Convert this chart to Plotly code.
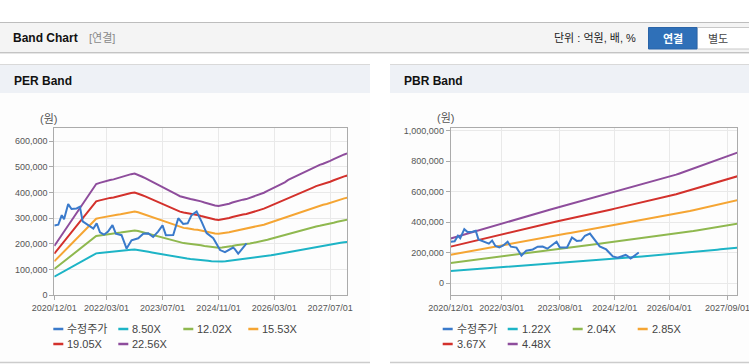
import pandas as pd
import plotly.graph_objects as go

W, H = 749, 364

# ---------------- data ----------------
band_dates = pd.date_range("2020-12-01", periods=85, freq="MS")

# forward EPS (won)
eps = [8500, 9400, 10300, 11200, 12100, 13000, 13900, 14800, 15700, 16600,
       17500, 18400, 19200, 19400, 19600, 19800, 19900, 20000, 20200, 20300,
       20500, 20700, 20900, 21000, 20800, 20500, 20200, 19900, 19600, 19300,
       19000, 18700, 18400, 18000, 17700, 17400, 17100, 16900, 16800, 16600,
       16500, 16400, 16200, 16000, 15800, 15600, 15500, 15400, 15500, 15600,
       15800, 16000, 16200, 16300, 16500, 16600, 16800, 17000, 17200, 17400,
       17700, 18000, 18300, 18600, 18900, 19200, 19500, 19900, 20200, 20500,
       20800, 21100, 21400, 21700, 22000, 22300, 22500, 22700, 22900, 23200,
       23500, 23800, 24100, 24300, 24500]

# forward BPS (won)
bps = [65500, 67000, 68500, 70000, 71500, 73000, 74500, 76000, 77500, 79000,
       80500, 82000, 83500, 85000, 86500, 88000, 89500, 91000, 92400, 93800,
       95200, 96500, 97900, 99300, 100700, 102000, 103400, 104800, 106200, 107600,
       109000, 110300, 111700, 113000, 114400, 115700, 117100, 118400, 119800, 121100,
       122500, 123800, 125200, 126500, 127900, 129200, 130600, 132000, 133400, 134800,
       136200, 137600, 139000, 140400, 141800, 143200, 144600, 146100, 147500, 149000,
       150400, 151800, 153300, 154700, 156200, 157600, 159000, 160800, 162600, 164400,
       166200, 168000, 169800, 171600, 173400, 175200, 177000, 178800, 180600, 182400,
       184200, 186000, 187800, 189600, 191400]

price_dates = ["2020-12-01", "2021-01-05", "2021-02-04", "2021-02-24", "2021-04-01",
               "2021-04-30", "2021-06-13", "2021-07-12", "2021-08-05", "2021-09-23",
               "2021-11-06", "2021-12-05", "2022-01-03", "2022-02-07", "2022-03-14",
               "2022-04-22", "2022-05-21", "2022-07-10", "2022-08-23", "2022-10-05",
               "2022-12-02", "2023-01-15", "2023-02-28", "2023-04-11", "2023-05-24",
               "2023-07-02", "2023-07-31", "2023-10-03", "2023-11-16", "2023-12-29",
               "2024-02-06", "2024-03-11", "2024-04-24", "2024-06-07", "2024-07-20",
               "2024-09-16", "2024-11-14", "2024-12-27", "2025-01-25", "2025-03-08",
               "2025-03-23", "2025-04-21", "2025-05-06", "2025-07-03"]
price = [272000, 275000, 312000, 296000, 355000, 336000, 338000, 345000, 288000, 272000,
         260000, 280000, 245000, 236000, 248000, 273000, 240000, 234000, 182000, 214000,
         222000, 240000, 241000, 227000, 248000, 272000, 234000, 235000, 300000, 278000,
         280000, 312000, 326000, 286000, 242000, 222000, 176000, 168000, 176000, 186000,
         180000, 162000, 170000, 202000]

per_multiples = [8.50, 12.02, 15.53, 19.05, 22.56]
pbr_multiples = [1.22, 2.04, 2.85, 3.67, 4.48]
price_name = "수정주가"
band_colors = ["#1db4c6", "#8fb84f", "#f5a533", "#d3312c", "#8e4d9c"]
price_color = "#3a7acb"

per_ticks = ["2020-12-01", "2022-03-01", "2023-07-01", "2024-11-01", "2026-03-01", "2027-07-01"]
pbr_ticks = ["2020-12-01", "2022-03-01", "2023-08-01", "2024-12-01", "2026-04-01", "2027-09-01"]
per_yticks = [0, 100000, 200000, 300000, 400000, 500000, 600000]
pbr_yticks = [0, 200000, 400000, 600000, 800000, 1000000]

# ---------------- figure ----------------
def px(x):
    return x / W

def py(y):
    return 1 - y / H

fig = go.Figure()

for mult, col in zip(per_multiples, band_colors):
    fig.add_trace(go.Scatter(x=band_dates, y=[e * mult for e in eps], mode="lines",
                             line=dict(color=col, width=2), name=f"{mult:.2f}X",
                             xaxis="x", yaxis="y", showlegend=False))
fig.add_trace(go.Scatter(x=price_dates, y=price, mode="lines",
                         line=dict(color=price_color, width=2), name=price_name,
                         xaxis="x", yaxis="y", showlegend=False))

for mult, col in zip(pbr_multiples, band_colors):
    fig.add_trace(go.Scatter(x=band_dates, y=[b * mult for b in bps], mode="lines",
                             line=dict(color=col, width=2), name=f"{mult:.2f}X",
                             xaxis="x2", yaxis="y2", showlegend=False))
fig.add_trace(go.Scatter(x=price_dates, y=price, mode="lines",
                         line=dict(color=price_color, width=2), name=price_name,
                         xaxis="x2", yaxis="y2", showlegend=False))

tickfont = dict(family="Liberation Sans, Arial, sans-serif", size=9, color="#555555")
axis_common = dict(showline=True, mirror=True, linecolor="#ababab", linewidth=1,
                   ticks="outside", ticklen=4, tickcolor="#ababab", tickfont=tickfont,
                   showgrid=True, gridcolor="#e9e9e9", gridwidth=1, zeroline=False,
                   fixedrange=True, automargin=False, ticklabeloverflow="allow")

x_range = ["2020-12-01", "2027-11-25"]
fig.update_layout(
    template="none",
    width=W, height=H, margin=dict(l=0, r=0, t=0, b=0, pad=0), autosize=False,
    paper_bgcolor="#ffffff", plot_bgcolor="#ffffff", showlegend=False,
    xaxis=dict(domain=[px(54.3), px(347)], anchor="y", type="date", range=x_range,
               tickvals=per_ticks, ticktext=[t.replace("-", "/") for t in per_ticks],
               **axis_common),
    yaxis=dict(domain=[py(295.3), py(128.3)], anchor="x", range=[0, 650000],
               tickvals=per_yticks, ticktext=[f"{v:,}" for v in per_yticks], **axis_common),
    xaxis2=dict(domain=[px(450.7), px(737)], anchor="y2", type="date", range=x_range,
                tickvals=pbr_ticks, ticktext=[t.replace("-", "/") for t in pbr_ticks],
                **axis_common),
    yaxis2=dict(domain=[py(295.3), py(128.3)], anchor="x2", range=[-78700, 1016400],
                tickvals=pbr_yticks, ticktext=[f"{v:,}" for v in pbr_yticks], **axis_common),
)

shapes = []
ann = []

def rect(x0, y0, x1, y1, fill, line=None):
    shapes.append(dict(type="rect", xref="paper", yref="paper", x0=px(x0), x1=px(x1),
                       y0=py(y1), y1=py(y0), fillcolor=fill, layer="below",
                       line=dict(width=0) if line is None else line))

def hline(x0, x1, y, color, width=1, layer="below"):
    shapes.append(dict(type="line", xref="paper", yref="paper", x0=px(x0), x1=px(x1),
                       y0=py(y), y1=py(y), line=dict(color=color, width=width), layer=layer))

def text(x, y, s, size=11, color="#333333", anchor="left", bold=False,
         family="Liberation Sans, Noto Sans CJK KR, sans-serif"):
    if bold:
        s = f"<b>{s}</b>"
    ann.append(dict(xref="paper", yref="paper", x=px(x), y=py(y), text=s, showarrow=False,
                    xanchor=anchor, yanchor="middle",
                    font=dict(size=size, color=color, family=family)))

# top header bar
rect(0, 22, 749, 53, "#f4f4f4")
hline(0, 749, 22.5, "#bdbdbd")
hline(0, 749, 52.5, "#c4c4c4")
hline(0, 749, 53.5, "#e6e6e6")
text(11, 38.5, "Band Chart", size=12, color="#111111", bold=True)
text(87, 38.5, "[연결]", size=11, color="#888888")
text(552, 38.5, "단위 : 억원, 배, %", size=11, color="#222222")
# buttons
shapes.append(dict(type="rect", xref="paper", yref="paper", x0=px(697), x1=px(752),
                   y0=py(49), y1=py(27.5), fillcolor="#ffffff", layer="below",
                   line=dict(color="#c8c8c8", width=1)))
shapes.append(dict(type="rect", xref="paper", yref="paper", x0=px(648.5), x1=px(697),
                   y0=py(49), y1=py(27.5), fillcolor="#2f70b8", layer="below",
                   line=dict(color="#2a64a8", width=1)))
text(672.5, 38.5, "연결", size=11, color="#ffffff", anchor="center", bold=True,
     family="Noto Sans CJK KR, sans-serif")
text(718, 38.5, "별도", size=11, color="#444444", anchor="center",
     family="Noto Sans CJK KR, sans-serif")

# panels
for (x0, x1, title) in [(0, 370, "PER Band"), (390, 749, "PBR Band")]:
    rect(x0, 93, x1, 362, "#fdfdfd")
    rect(x0, 64, x1, 93, "#eef1f6")
    hline(x0, x1, 64.5, "#d9d9d9")
    hline(x0, x1, 362.5, "#cccccc", width=1.5)
    text(x0 + 11.5, 80.5, title, size=12, color="#111111", bold=True)

text(49, 119, "(원)", size=11, color="#555555", anchor="center")
text(445.5, 118.5, "(원)", size=11, color="#555555", anchor="center")

# legends
def legend(names, x_start):
    colors = [price_color] + band_colors
    for i, (nm, col) in enumerate(zip(names, colors)):
        row, colidx = divmod(i, 4)
        x0 = x_start + colidx * 65
        y = 329 + row * 15
        hline(x0, x0 + 10, y, col, width=2.5, layer="above")
        text(x0 + 12, y, nm, size=11, color="#444444")

legend([price_name] + [f"{m:.2f}X" for m in per_multiples], 53.3)
legend([price_name] + [f"{m:.2f}X" for m in pbr_multiples], 442.7)

fig.update_layout(shapes=shapes, annotations=ann)
fig.write_html("out.html", config={"displayModeBar": False, "staticPlot": True},
               post_script="document.body.style.margin='0';document.body.style.padding='0';")
